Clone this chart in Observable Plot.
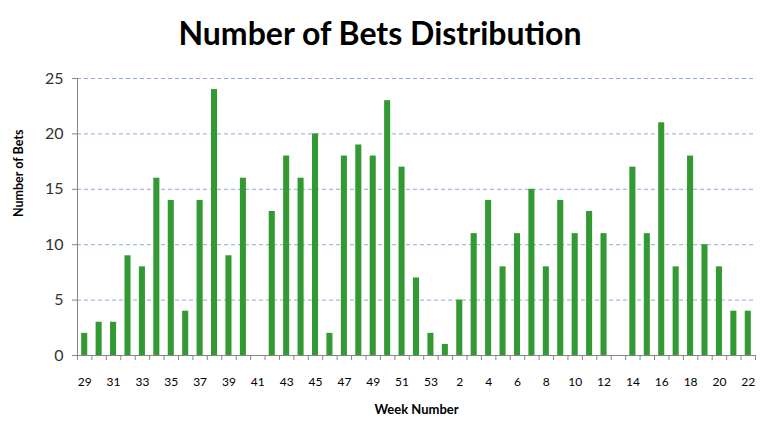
<!DOCTYPE html>
<html><head><meta charset="utf-8">
<script src="https://cdn.jsdelivr.net/npm/d3@7"></script>
<script src="https://cdn.jsdelivr.net/npm/@observablehq/plot@0.6"></script>
<style>
body{margin:0;background:#fff;}
#title{height:60px;line-height:66px;text-align:center;font-family:Lato,"Open Sans",sans-serif;font-weight:bold;font-size:32px;color:#000;width:774px;padding-right:14px;box-sizing:border-box;}
svg{display:block;}
</style></head>
<body>
<div id="title">Number of Bets Distribution</div>
<div id="chart"></div>
<script>
const weeks = [29,30,31,32,33,34,35,36,37,38,39,40,41,42,43,44,45,46,47,48,49,50,51,52,53,1,2,3,4,5,6,7,8,9,10,11,12,13,14,15,16,17,18,19,20,21,22];
const bets = [2,3,3,9,8,16,14,4,14,24,9,16,0,13,18,16,20,2,18,19,18,23,17,7,2,1,5,11,14,8,11,15,8,14,11,13,11,0,17,11,21,8,18,10,8,4,4];
const yTicks = [0,5,10,15,20,25];

const data = weeks.map((w,i)=>({i, week:w, bets:bets[i]}));
const boundaries = d3.range(weeks.length+1).map(k=>k-0.5);
const labelIdx = d3.range(0, weeks.length, 2);

const chart = Plot.plot({
  width:774, height:384,
  marginTop:18, marginLeft:77, marginRight:19, marginBottom:89,
  style:{fontFamily:"Lato, 'Open Sans', sans-serif", background:"#fff"},
  x:{type:"linear", domain:[-0.5, weeks.length-0.5]},
  y:{domain:[0,25]},
  marks:[
    Plot.ruleY(yTicks.filter(d=>d>0), {stroke:"#8faadc", strokeDasharray:"4,3", strokeWidth:1}),
    Plot.rectY(data, {x1:d=>d.i-0.21, x2:d=>d.i+0.21, y1:0, y2:"bets", fill:"#339933"}),
    Plot.axisY({ticks:yTicks, tickSize:5, tickPadding:9, fontSize:16, stroke:"#868686", color:"#333", label:null}),
    Plot.axisX({ticks:boundaries, tickSize:5, tickFormat:()=> "", stroke:"#868686", label:null}),
    Plot.axisX({ticks:labelIdx, tickSize:0, tickPadding:22, fontSize:12, tickFormat:i=>String(weeks[i]), label:null, color:"#000"}),
    Plot.ruleX([-0.5], {stroke:"#868686"}),
    Plot.ruleY([0], {stroke:"#868686"}),
    Plot.text(["Week Number"], {frameAnchor:"bottom", dy:58, fontWeight:"bold", fontSize:13, fill:"#000"}),
    Plot.text(["Number of Bets"], {frameAnchor:"left", dx:-59, rotate:-90, fontWeight:"bold", fontSize:12.5, fill:"#000"})
  ]
});
document.getElementById("chart").appendChild(chart);
</script>
</body></html>
